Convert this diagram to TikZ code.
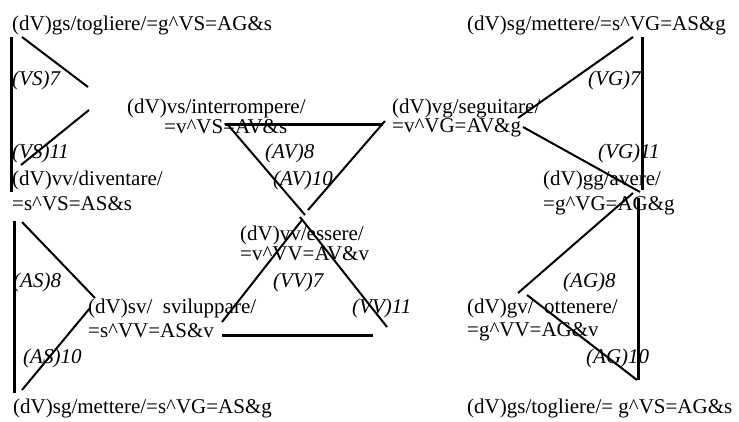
\documentclass[tikz,border=0pt]{standalone}
\usepackage{fontspec}
\setmainfont{Liberation Serif}[ItalicFont={Liberation Serif Italic}]
\begin{document}
\begin{tikzpicture}[x=1pt,y=-1pt,
  txt/.style={anchor=base west, inner sep=0pt, font=\fontsize{21}{24}\selectfont},
  lbl/.style={anchor=base west, inner sep=0pt, font=\fontsize{21}{24}\selectfont\itshape},
  bar/.style={line width=3pt},
  edge/.style={line width=2pt}]
\useasboundingbox (0,0) rectangle (739,421);
% texts left
\node[txt] (n1) at (12,30) {(dV)gs/togliere/=g\textasciicircum VS=AG\&s};
\node[lbl] (n2) at (12,85) {(VS)7};
\node[txt] (n3) at (127,113) {(dV)vs/interrompere/};
\node[txt] (n4) at (164,133) {=v\textasciicircum VS=AV\&s};
\node[lbl] (n5) at (12,158) {(VS)11};
\node[txt] (n6) at (12,185) {(dV)vv/diventare/};
\node[txt] (n7) at (12,210) {=s\textasciicircum VS=AS\&s};
\node[lbl] (n8) at (265,158) {(AV)8};
\node[lbl] (n9) at (273,185) {(AV)10};
\node[txt] (n10) at (240,240) {(dV)vv/essere/};
\node[txt] (n11) at (240,260) {=v\textasciicircum VV=AV\&v};
\node[lbl] (n12) at (273,287) {(VV)7};
\node[lbl] (n13) at (352,313) {(VV)11};
\node[lbl] (n14) at (13,287) {(AS)8};
\node[txt] (n15) at (88,313) {(dV)sv/\ \ sviluppare/};
\node[txt] (n16) at (88,337) {=s\textasciicircum VV=AS\&v};
\node[lbl] (n17) at (23,363) {(AS)10};
\node[txt] (n18) at (13,413) {(dV)sg/mettere/=s\textasciicircum VG=AS\&g};
% texts right
\node[txt] (r1) at (467,30) {(dV)sg/mettere/=s\textasciicircum VG=AS\&g};
\node[lbl] (r2) at (588,85) {(VG)7};
\node[txt] (r3) at (392,113) {(dV)vg/seguitare/};
\node[txt] (r4) at (392,132) {=v\textasciicircum VG=AV\&g};
\node[lbl] (r5) at (598,158) {(VG)11};
\node[txt] (r6) at (543,185) {(dV)gg/avere/};
\node[txt] (r7) at (543,210) {=g\textasciicircum VG=AG\&g};
\node[lbl] (r8) at (563,287) {(AG)8};
\node[txt] (r9) at (467,313) {(dV)gv/\ \ ottenere/};
\node[txt] (r10) at (467,336) {=g\textasciicircum VV=AG\&v};
\node[lbl] (r11) at (586,363) {(AG)10};
\node[txt] (r12) at (467,413) {(dV)gs/togliere/=\ g\textasciicircum VS=AG\&s};
% coordinates
\coordinate (a1) at (11,37);   \coordinate (a2) at (11,192);
\coordinate (b1) at (22,37);   \coordinate (b2) at (88,87);
\coordinate (c1) at (89,110);  \coordinate (c2) at (21,165);
\coordinate (d1) at (14,221);  \coordinate (d2) at (14,393);
\coordinate (e1) at (22,222);  \coordinate (e2) at (95,298);
\coordinate (f1) at (90,308);  \coordinate (f2) at (22,390);
\coordinate (g1) at (225,124); \coordinate (g2) at (383,124);
\coordinate (h1) at (228,125); \coordinate (h2) at (305,215);
\coordinate (i1) at (385,121); \coordinate (i2) at (308,210);
\coordinate (j1) at (300,217); \coordinate (j2) at (387,327);
\coordinate (k1) at (302,220); \coordinate (k2) at (222,322);
\coordinate (l1) at (222,335); \coordinate (l2) at (373,335);
\coordinate (m1) at (642,37);  \coordinate (m2) at (642,190);
\coordinate (o1) at (633,37);  \coordinate (o2) at (518,118);
\coordinate (p1) at (523,127); \coordinate (p2) at (640,192);
\coordinate (q1) at (638,198); \coordinate (q2) at (638,380);
\coordinate (s1) at (518,293); \coordinate (s2) at (633,193);
\coordinate (u1) at (527,295); \coordinate (u2) at (637,380);
% lines
\draw[bar] (a1) -- (a2);
\draw[edge] (b1) -- (b2);
\draw[edge] (c1) -- (c2);
\draw[bar] (d1) -- (d2);
\draw[edge] (e1) -- (e2);
\draw[edge] (f1) -- (f2);
\draw[bar] (g1) -- (g2);
\draw[edge] (h1) -- (h2);
\draw[edge] (i1) -- (i2);
\draw[edge] (j1) -- (j2);
\draw[edge] (k1) -- (k2);
\draw[bar] (l1) -- (l2);
\draw[bar] (m1) -- (m2);
\draw[edge] (o1) -- (o2);
\draw[edge] (p1) -- (p2);
\draw[bar] (q1) -- (q2);
\draw[edge] (s1) -- (s2);
\draw[edge] (u1) -- (u2);
\end{tikzpicture}
\end{document}
